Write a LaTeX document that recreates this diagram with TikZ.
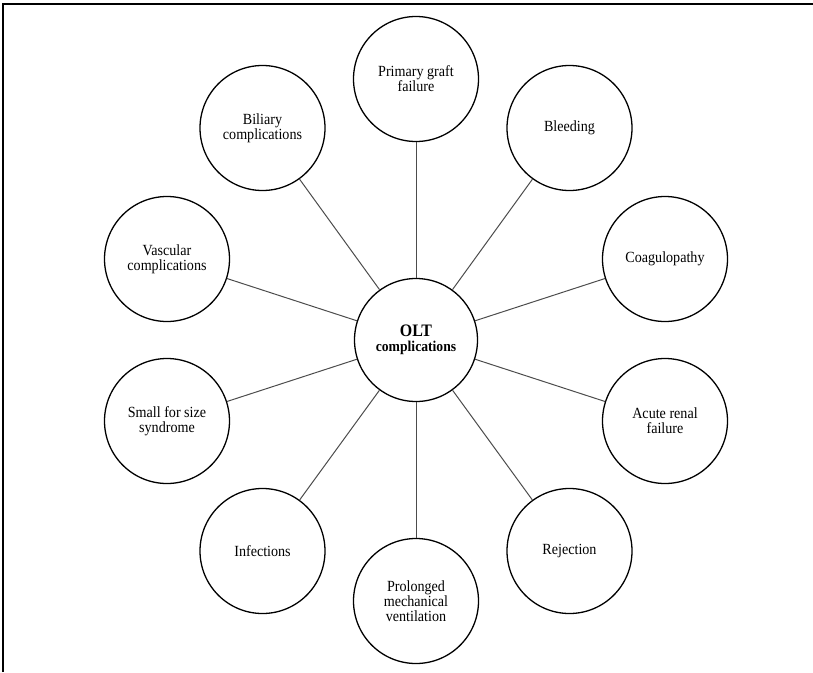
\documentclass[tikz,border=0pt]{standalone}
\usepackage{fontspec}
\setmainfont[FakeStretch=0.91]{Liberation Serif}
\begin{document}
\begin{tikzpicture}[x=1pt,y=-1pt,
  outer/.style={circle,draw=black,line width=1.3pt,minimum size=125pt,inner sep=0pt,
    align=center,font=\fontsize{15.5}{15}\selectfont},
  hub/.style={circle,draw=black,line width=1.3pt,minimum size=123pt,inner sep=0pt,
    align=center,font=\fontsize{15}{15}\selectfont\bfseries},
  spoke/.style={draw=black!70,line width=1pt},
  frame/.style={draw=black,line width=1.6pt}]
\useasboundingbox (0,0) rectangle (813,672);
\coordinate (fb) at (3,672);
\coordinate (ftl) at (3,4);
\coordinate (ftr) at (813,4);
\draw[frame] (fb) -- (ftl) -- (ftr);

\node[hub] (c) at (416,340) {{\fontsize{17.5}{15}\selectfont OLT}\\complications};

\node[outer] (n1)  at (416,79)    {Primary graft\\failure};
\node[outer] (n2)  at (569.5,128) {Bleeding};
\node[outer] (n3)  at (665,259)   {Coagulopathy};
\node[outer] (n4)  at (665,421)   {Acute renal\\failure};
\node[outer] (n5)  at (569.5,551) {Rejection};
\node[outer] (n6)  at (416,601)   {Prolonged\\mechanical\\ventilation};
\node[outer] (n7)  at (262.5,551) {Infections};
\node[outer] (n8)  at (167,421)   {Small for size\\syndrome};
\node[outer] (n9)  at (167,259)   {Vascular\\complications};
\node[outer] (n10) at (262.5,128) {Biliary\\complications};

\foreach \i in {1,...,10} {\draw[spoke] (c) -- (n\i);}
\end{tikzpicture}
\end{document}
